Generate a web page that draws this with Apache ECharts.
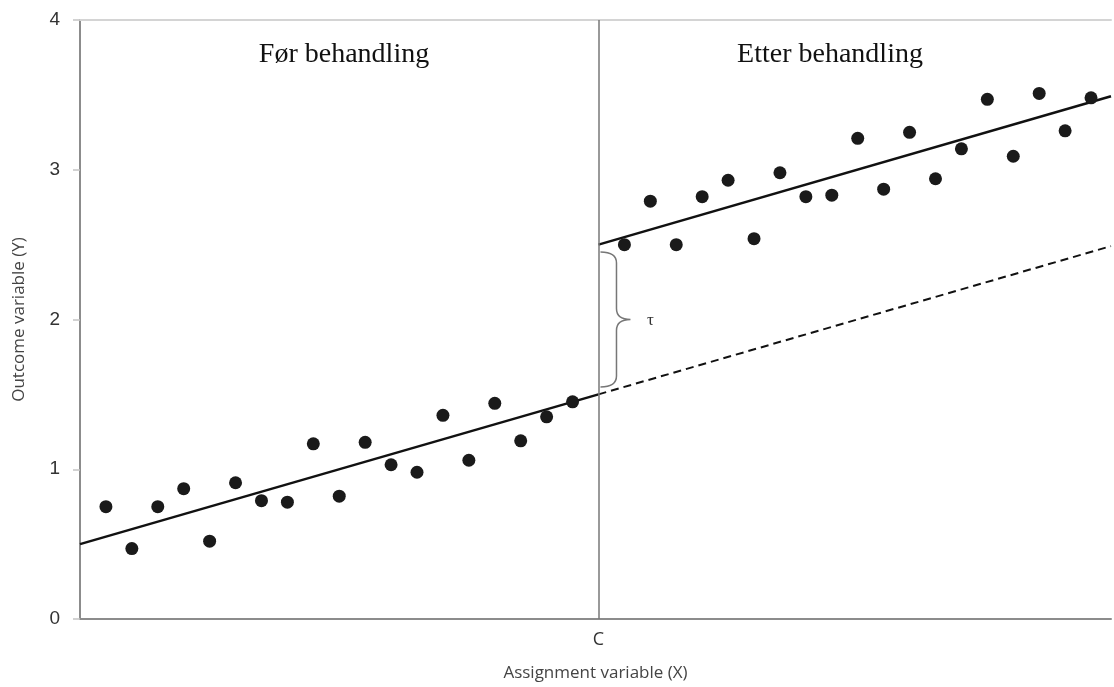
<!DOCTYPE html>
<html>
<head>
<meta charset="utf-8">
<script src="https://cdn.jsdelivr.net/npm/echarts@6/dist/echarts.min.js"></script>
<style>
html,body{margin:0;padding:0;background:#fff;}
#chart{width:1114px;height:687px;}
</style>
</head>
<body>
<div id="chart"></div>
<script>
// ---- data ----
var leftX = [1,2,3,4,5,6,7,8,9,10,11,12,13,14,15,16,17,18,19];
var leftY = [0.75,0.47,0.75,0.87,0.52,0.91,0.79,0.78,1.17,0.82,1.18,1.03,0.98,1.36,1.06,1.44,1.19,1.35,1.45];
var rightX = [21,22,23,24,25,26,27,28,29,30,31,32,33,34,35,36,37,38,39];
var rightY = [2.50,2.79,2.50,2.82,2.93,2.54,2.98,2.82,2.83,3.21,2.87,3.25,2.94,3.14,3.47,3.09,3.51,3.26,3.48];
var cutoff = 20;
var xMax = 39.77;
var fitBeforeX = [0, 20];
var fitBeforeY = [0.5, 1.5];
var fitAfterX = [20, 39.77];
var fitAfterY = [2.5, 3.49];
var counterfactualX = [20, 39.77];
var counterfactualY = [1.5, 2.49];
var braceRange = [1.55, 2.45];
var yTicks = [0, 1, 2, 3, 4];
var panelLabels = ['Før behandling', 'Etter behandling'];

function zip(a, b){ return a.map(function(v,i){ return [v, b[i]]; }); }

var chart = echarts.init(document.getElementById('chart'), null, {renderer:'canvas'});

var option = {
  backgroundColor: '#ffffff',
  animation: false,
  grid: {left: 80, right: 0, top: 20, bottom: 67, containLabel: false},
  xAxis: [{
    type: 'value', min: 0, max: xMax, interval: 20,
    axisLine: {show: true, lineStyle: {color: '#8c8c8c', width: 2}},
    axisTick: {show: false},
    splitLine: {show: false},
    axisLabel: {
      margin: 12, color: '#333', fontSize: 18, fontFamily: 'Open Sans',
      formatter: function(v){ return v === cutoff ? 'C' : ''; }
    },
    name: 'Assignment variable (X)', nameLocation: 'middle', nameGap: 46,
    nameTextStyle: {color: '#444', fontSize: 17, fontFamily: 'Open Sans'}
  }, {
    type: 'value', min: 0, max: xMax, position: 'top',
    axisLine: {show: true, onZero: false, lineStyle: {color: '#d4d4d4', width: 2}},
    axisTick: {show: false}, axisLabel: {show: false}, splitLine: {show: false}
  }],
  yAxis: {
    type: 'value', min: yTicks[0], max: yTicks[yTicks.length-1], interval: 1,
    axisLine: {show: true, lineStyle: {color: '#8c8c8c', width: 2}},
    axisTick: {show: true, length: 7, lineStyle: {color: '#c4c4c4', width: 1.5}},
    splitLine: {show: false},
    axisLabel: {margin: 20, color: '#333', fontSize: 19, fontFamily: 'Liberation Sans'},
    name: 'Outcome variable (Y)', nameLocation: 'middle', nameGap: 52,
    nameTextStyle: {color: '#444', fontSize: 17, fontFamily: 'Open Sans'}
  },
  series: [
    {
      type: 'line', data: zip(fitBeforeX, fitBeforeY), symbol: 'none',
      lineStyle: {color: '#111', width: 2.6}, z: 3,
      markLine: {
        silent: true, symbol: 'none', label: {show: false},
        lineStyle: {color: '#777', width: 1.5, type: 'solid'},
        data: [{xAxis: cutoff}]
      }
    },
    {
      type: 'line', data: zip(fitAfterX, fitAfterY), symbol: 'none',
      lineStyle: {color: '#111', width: 2.6}, z: 3
    },
    {
      type: 'line', data: zip(counterfactualX, counterfactualY), symbol: 'none',
      lineStyle: {color: '#111', width: 2, type: [8, 5]}, z: 3
    },
    {
      type: 'scatter', data: zip(leftX, leftY), symbolSize: 13,
      itemStyle: {color: '#1a1a1a', opacity: 1}, z: 4
    },
    {
      type: 'scatter', data: zip(rightX, rightY), symbolSize: 13,
      itemStyle: {color: '#1a1a1a', opacity: 1}, z: 4
    },
    {
      type: 'custom', z: 5,
      data: [[cutoff, braceRange[0], braceRange[1]]],
      renderItem: function(params, api){
        var top = api.coord([api.value(0), api.value(2)]);
        var bot = api.coord([api.value(0), api.value(1)]);
        var x0 = top[0] + 2;
        var x1 = x0 + 16;
        var xt = x0 + 30;
        var yT = top[1], yB = bot[1], yM = (yT + yB) / 2;
        var r = 11;
        var d = 'M' + x0 + ' ' + yT +
          ' Q' + x1 + ' ' + yT + ' ' + x1 + ' ' + (yT + r) +
          ' L' + x1 + ' ' + (yM - r) +
          ' Q' + x1 + ' ' + yM + ' ' + xt + ' ' + yM +
          ' Q' + x1 + ' ' + yM + ' ' + x1 + ' ' + (yM + r) +
          ' L' + x1 + ' ' + (yB - r) +
          ' Q' + x1 + ' ' + yB + ' ' + x0 + ' ' + yB;
        return {
          type: 'group',
          children: [
            {type: 'path', shape: {pathData: d}, style: {fill: null, stroke: '#777', lineWidth: 1.5}},
            {type: 'text', style: {text: 'τ', x: xt + 20, y: yM + 1, fill: '#333',
              font: '17px "Liberation Serif"', align: 'center', verticalAlign: 'middle'}}
          ]
        };
      }
    }
  ]
};
chart.setOption(option);

chart.setOption({
  graphic: [
    {type: 'text', style: {text: panelLabels[0], x: 344, y: 55,
      font: '28px "Liberation Serif"', fill: '#111', align: 'center', verticalAlign: 'middle'}},
    {type: 'text', style: {text: panelLabels[1], x: 830, y: 55,
      font: '28px "Liberation Serif"', fill: '#111', align: 'center', verticalAlign: 'middle'}}
  ]
});
</script>
</body>
</html>
